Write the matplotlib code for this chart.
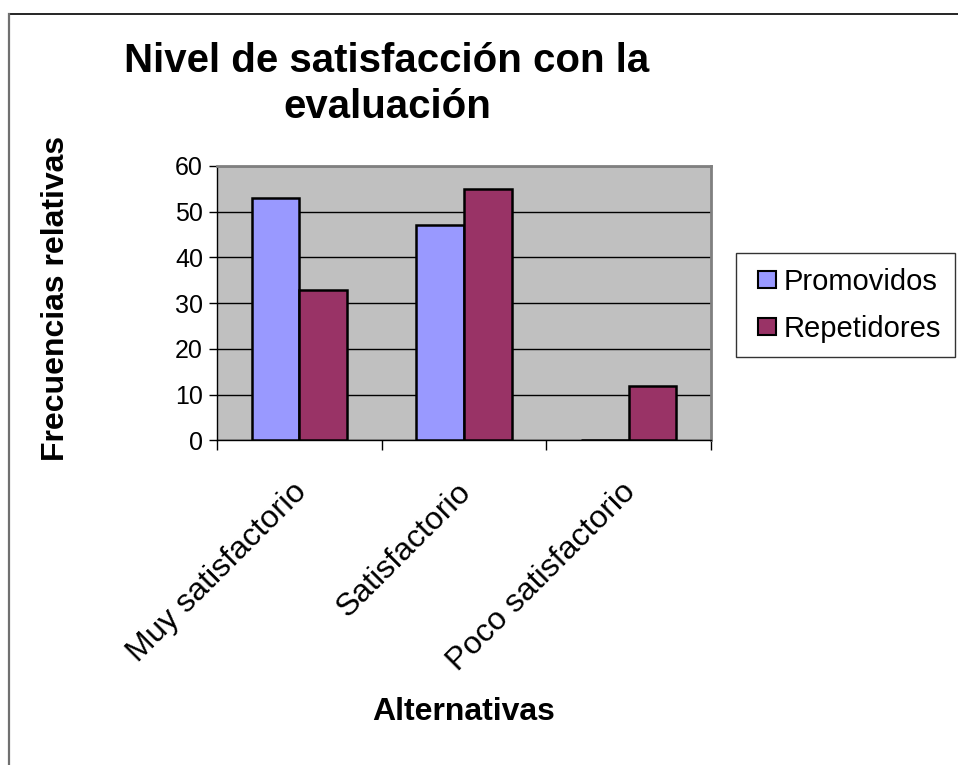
import numpy as np
import matplotlib.pyplot as plt
from matplotlib.patches import Patch, Rectangle
from matplotlib.lines import Line2D
from matplotlib.legend_handler import HandlerPatch
from matplotlib.transforms import ScaledTranslation

plt.rcParams['font.family'] = ['Liberation Sans', 'DejaVu Sans']

categorias = ['Muy satisfactorio', 'Satisfactorio', 'Poco satisfactorio']
promovidos = [53, 47, 0]
repetidores = [33, 55, 12]
series = ['Promovidos', 'Repetidores']
colores = ['#9999ff', '#993366']

fig = plt.figure(figsize=(9.58, 7.65), dpi=100)
ax = fig.add_axes([217/958, 1-440.5/765, (711-217)/958, (440.5-166)/765])

# marco exterior del grafico (solo arriba e izquierda se ven)
fig.lines.append(Line2D([8.5/958, 1], [1-13.5/765, 1-13.5/765], transform=fig.transFigure,
                        color='black', linewidth=1.2))
fig.lines.append(Line2D([9/958, 9/958], [0, 1-13.5/765], transform=fig.transFigure,
                        color='#707070', linewidth=1.6))

x = np.arange(len(categorias))
w = 0.29
ax.bar(x - w/2, promovidos, w, color=colores[0], edgecolor='black', linewidth=1.8, zorder=3)
ax.bar(x + w/2, repetidores, w, color=colores[1], edgecolor='black', linewidth=1.8, zorder=3)

ax.set_facecolor('#c0c0c0')
ax.set_xlim(-0.5, 2.5)
ax.set_ylim(0, 60)
ax.set_yticks(range(0, 61, 10))
ax.yaxis.grid(True, color='black', linewidth=1, zorder=0)
ax.set_axisbelow(True)

ax.set_xticks([-0.5, 0.5, 1.5, 2.5])
ax.set_xticklabels([])
ax.set_xticks(x, minor=True)
ax.set_xticklabels(categorias, minor=True, rotation=45, ha='right', va='top',
                   rotation_mode='anchor', fontsize=23)
ax.tick_params(axis='x', which='minor', length=0, pad=26)
ax.tick_params(axis='x', which='major', length=7, width=1, direction='out')
ax.tick_params(axis='y', length=6, width=1, direction='out', labelsize=18, pad=4)
shift = ScaledTranslation(-8/100, 0, fig.dpi_scale_trans)
for lbl in ax.get_xticklabels(minor=True):
    lbl.set_transform(lbl.get_transform() + shift)

for s in ['top', 'right']:
    ax.spines[s].set_color('#808080')
    ax.spines[s].set_linewidth(2)
for s in ['left', 'bottom']:
    ax.spines[s].set_color('black')
    ax.spines[s].set_linewidth(1)

fig.text(387/958, 1-84/765, 'Nivel de satisfacción con la\nevaluación', ha='center', va='center',
         fontsize=29, fontweight='bold', linespacing=1.25)
fig.text(464/958, 1-712/765, 'Alternativas', ha='center', va='center', fontsize=23, fontweight='bold')
fig.text(56/958, 1-298/765, 'Frecuencias relativas', ha='center', va='center', rotation=90,
         fontsize=23, fontweight='bold')


def cuadrito(legend, orig_handle, xdescent, ydescent, width, height, fontsize):
    lado = 0.6 * fontsize
    return Rectangle((width - lado - xdescent, -ydescent + (height - lado) / 2), lado, lado)


handles = [Patch(facecolor=c, edgecolor='black', linewidth=1.5) for c in colores]
leg = fig.legend(handles, series, loc='upper left', bbox_to_anchor=(736/958, 1-253/765),
                 fontsize=21, frameon=True, fancybox=False, edgecolor='black',
                 handlelength=0.87, handleheight=0.6, handletextpad=0.25,
                 labelspacing=0.65, borderpad=0.5, borderaxespad=0,
                 handler_map={Patch: HandlerPatch(patch_func=cuadrito)})
leg.get_frame().set_linewidth(1)

fig.savefig('out.png', dpi=100)
